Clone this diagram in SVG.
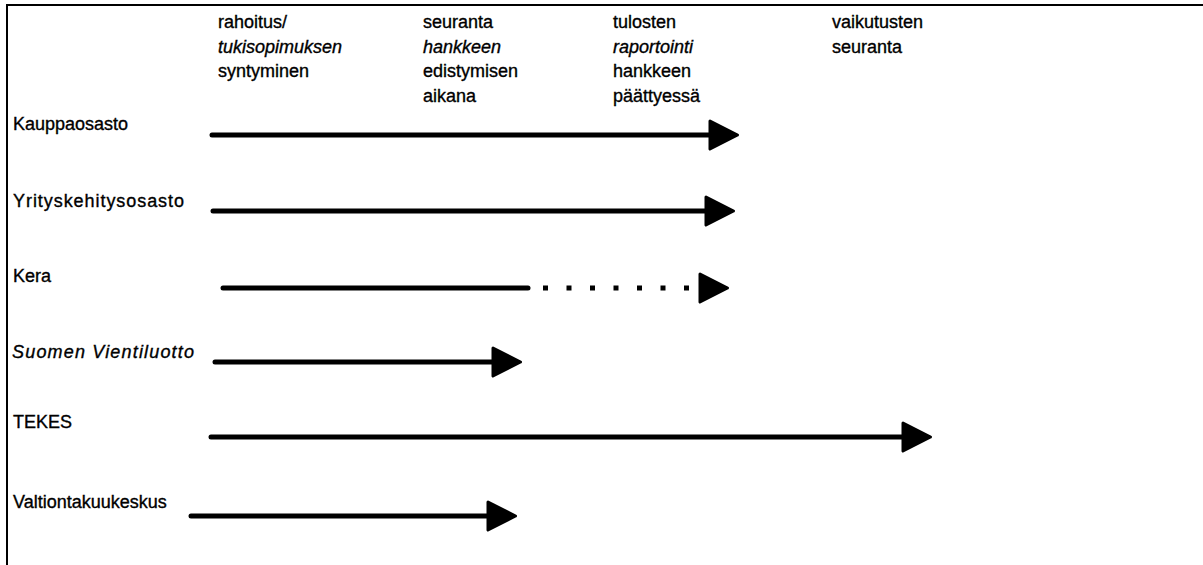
<svg xmlns="http://www.w3.org/2000/svg" width="1203" height="565" viewBox="0 0 1203 565">
  <style>
    text { font-family: "Liberation Sans", Arial, sans-serif; font-size: 18px; fill: #000; stroke: #000; stroke-width: 0.35; }
    .it { font-style: italic; }
    .frame { stroke: #000; stroke-width: 2; fill: none; }
    .arrow { stroke: #000; stroke-width: 5; fill: none; stroke-linecap: round; }
    .dots { stroke: #000; stroke-width: 5; fill: none; stroke-dasharray: 5 18.5; }
  </style>
  <defs>
    <marker id="head" markerUnits="userSpaceOnUse" viewBox="-2 -17 34 34" refX="0" refY="0" markerWidth="34" markerHeight="34" orient="auto" overflow="visible">
      <path d="M0,-14 L27.5,0 L0,14 Z" fill="#000" stroke="#000" stroke-width="3" stroke-linejoin="round"/>
    </marker>
  </defs>
  <rect width="1203" height="565" fill="#fff"/>
  <g id="frame">
    <line class="frame" x1="6" y1="5" x2="1203" y2="5"/>
    <line class="frame" x1="7" y1="5" x2="7" y2="565"/>
  </g>
  <g id="col-rahoitus">
    <text x="218" y="28">rahoitus/</text>
    <text x="218" y="53" class="it">tukisopimuksen</text>
    <text x="218" y="77">syntyminen</text>
  </g>
  <g id="col-seuranta">
    <text x="423" y="28">seuranta</text>
    <text x="423" y="53" class="it">hankkeen</text>
    <text x="423" y="77">edistymisen</text>
    <text x="423" y="102">aikana</text>
  </g>
  <g id="col-tulosten">
    <text x="613" y="28">tulosten</text>
    <text x="613" y="53" class="it">raportointi</text>
    <text x="613" y="77">hankkeen</text>
    <text x="613" y="102">päättyessä</text>
  </g>
  <g id="col-vaikutusten">
    <text x="832" y="28">vaikutusten</text>
    <text x="832" y="53">seuranta</text>
  </g>
  <g id="row-kauppaosasto"><text x="13" y="130">Kauppaosasto</text></g>
  <g id="row-yrityskehitysosasto"><text x="13" y="207" textLength="171" lengthAdjust="spacing">Yrityskehitysosasto</text></g>
  <g id="row-kera"><text x="13" y="282">Kera</text></g>
  <g id="row-vientiluotto"><text x="12" y="358" class="it" textLength="182" lengthAdjust="spacing">Suomen Vientiluotto</text></g>
  <g id="row-tekes"><text x="13" y="428">TEKES</text></g>
  <g id="row-valtiontakuukeskus"><text x="13" y="508">Valtiontakuukeskus</text></g>
  <g id="connectors">
    <line class="arrow" x1="212" y1="135" x2="710" y2="135" marker-end="url(#head)"/>
    <line class="arrow" x1="213" y1="211" x2="706" y2="211" marker-end="url(#head)"/>
    <line class="arrow" x1="223" y1="288" x2="528" y2="288" stroke-linecap="butt"/>
    <line class="dots" x1="543" y1="288" x2="700" y2="288" marker-end="url(#head)"/>
    <line class="arrow" x1="215" y1="362" x2="493" y2="362" marker-end="url(#head)"/>
    <line class="arrow" x1="211" y1="437" x2="903" y2="437" marker-end="url(#head)"/>
    <line class="arrow" x1="191" y1="516" x2="488" y2="516" marker-end="url(#head)"/>
  </g>
</svg>
